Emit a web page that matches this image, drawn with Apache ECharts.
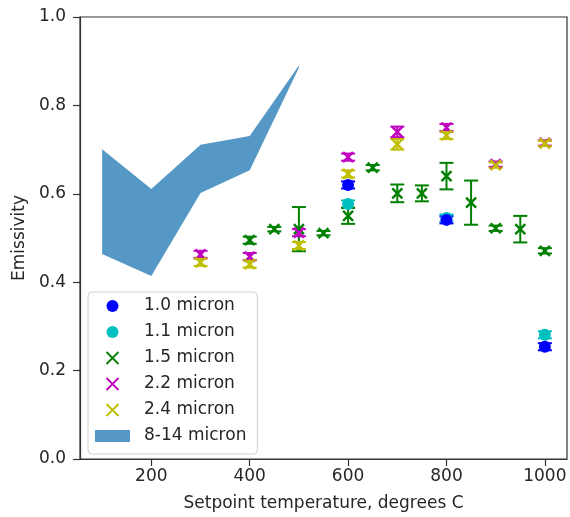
<!DOCTYPE html>
<html>
<head>
<meta charset="utf-8">
<script src="https://cdn.jsdelivr.net/npm/echarts@6/dist/echarts.min.js"></script>
<style>
  html, body { margin: 0; padding: 0; background: #fff; }
  #chart { width: 570px; height: 517px; }
</style>
</head>
<body>
<div id="chart"></div>
<script>
// Emissivity measurements per wavelength band
const temps10 = [600, 800, 1000];
const emis10 = [0.620, 0.541, 0.254];
const err10 = [0.008, 0.008, 0.008];

const temps11 = [600, 800, 1000];
const emis11 = [0.577, 0.545, 0.281];
const err11 = [0.008, 0.008, 0.008];

const temps15 = [400, 450, 500, 550, 600, 650, 700, 750, 800, 850, 900, 950, 1000];
const emis15 = [0.495, 0.520, 0.520, 0.511, 0.550, 0.659, 0.601, 0.601, 0.640, 0.580, 0.522, 0.520, 0.471];
const err15 = [0.008, 0.005, 0.050, 0.005, 0.018, 0.006, 0.020, 0.018, 0.030, 0.050, 0.006, 0.030, 0.006];

const temps22 = [300, 400, 500, 600, 700, 800, 900, 1000];
const emis22 = [0.463, 0.458, 0.512, 0.683, 0.740, 0.750, 0.667, 0.715];
const err22 = [0.008, 0.008, 0.008, 0.008, 0.012, 0.008, 0.006, 0.006];

const temps24 = [300, 400, 500, 600, 700, 800, 900, 1000];
const emis24 = [0.445, 0.441, 0.483, 0.645, 0.712, 0.732, 0.665, 0.714];
const err24 = [0.008, 0.008, 0.008, 0.008, 0.012, 0.008, 0.006, 0.006];

// 8-14 micron band: lower and upper bounds
const bandTemps = [100, 200, 300, 400, 500];
const bandLow = [0.464, 0.414, 0.602, 0.653, 0.885];
const bandHigh = [0.701, 0.611, 0.711, 0.731, 0.890];

const xTicks = [200, 400, 600, 800, 1000];

const FONT = 'DejaVu Sans';
const TEXT = '#262626';
const CROSS = 'path://M0,0L10,10M10,0L0,10';

function errorSeries(name, xs, ys, es, color) {
  return {
    type: 'custom',
    name: name,
    silent: true,
    data: xs.map((x, i) => [x, ys[i] - es[i], ys[i] + es[i]]),
    encode: { x: 0, y: [1, 2] },
    renderItem: function (params, api) {
      const lo = api.coord([api.value(0), api.value(1)]);
      const hi = api.coord([api.value(0), api.value(2)]);
      const cap = 7;
      const st = { stroke: color, lineWidth: 2, fill: null };
      return {
        type: 'group',
        children: [
          { type: 'line', shape: { x1: lo[0], y1: lo[1], x2: hi[0], y2: hi[1] }, style: st },
          { type: 'line', shape: { x1: lo[0] - cap, y1: lo[1], x2: lo[0] + cap, y2: lo[1] }, style: st },
          { type: 'line', shape: { x1: hi[0] - cap, y1: hi[1], x2: hi[0] + cap, y2: hi[1] }, style: st }
        ]
      };
    },
    z: 3
  };
}

function pointSeries(name, xs, ys, color, cross) {
  return {
    type: 'scatter',
    name: name,
    data: xs.map((x, i) => [x, ys[i]]),
    symbol: cross ? CROSS : 'circle',
    symbolSize: cross ? 10 : 12,
    itemStyle: cross
      ? { color: 'none', borderColor: color, borderWidth: 2.4, opacity: 1 }
      : { color: color, opacity: 1 },
    z: 4
  };
}

const bandSeries = {
  type: 'custom',
  name: '8-14 micron',
  data: bandTemps.map((x, i) => [x, bandLow[i], bandHigh[i]]),
  encode: { x: 0, y: [1, 2] },
  renderItem: function (params, api) {
    if (params.dataIndex !== 0) return null;
    const pts = [];
    for (let i = 0; i < bandTemps.length; i++) pts.push(api.coord([bandTemps[i], bandHigh[i]]));
    for (let i = bandTemps.length - 1; i >= 0; i--) pts.push(api.coord([bandTemps[i], bandLow[i]]));
    return { type: 'polygon', shape: { points: pts }, style: { fill: '#5597c5', stroke: null } };
  },
  itemStyle: { color: '#5597c5' },
  z: 2
};

const colors = { c10: '#0000ff', c11: '#00bfbf', c15: '#008000', c22: '#bf00bf', c24: '#bfbf00' };

const option = {
  animation: false,
  backgroundColor: '#ffffff',
  grid: { left: 80, right: 3, top: 17, bottom: 53, show: true, borderColor: '#333', borderWidth: 1.2 },
  xAxis: {
    type: 'value',
    min: 55,
    max: 1045,
    name: 'Setpoint temperature, degrees C',
    nameLocation: 'middle',
    nameGap: 36,
    nameTextStyle: { fontFamily: FONT, fontSize: 17, color: TEXT },
    axisLine: { show: true, onZero: false, lineStyle: { color: '#333', width: 1.2 } },
    axisTick: { show: true, length: 7, inside: false, customValues: xTicks, lineStyle: { color: '#333', width: 1.2 } },
    axisLabel: { customValues: xTicks, margin: 9, fontFamily: FONT, fontSize: 17, color: TEXT, formatter: v => String(v) },
    splitLine: { show: false }
  },
  yAxis: {
    type: 'value',
    min: 0,
    max: 1,
    interval: 0.2,
    name: 'Emissivity',
    nameLocation: 'middle',
    nameGap: 43,
    nameTextStyle: { fontFamily: FONT, fontSize: 17, color: TEXT },
    axisLine: { show: true, lineStyle: { color: '#333', width: 1.2 } },
    axisTick: { show: true, length: 7, lineStyle: { color: '#333', width: 1.2 } },
    axisLabel: { margin: 14, fontFamily: FONT, fontSize: 17, color: TEXT, formatter: v => v.toFixed(1) },
    splitLine: { show: false }
  },
  legend: {
    orient: 'vertical',
    left: 88,
    top: 292,
    itemWidth: 35,
    itemHeight: 12,
    itemGap: 6,
    padding: [4, 11, 8, 7],
    backgroundColor: '#ffffff',
    borderColor: '#d0d0d0',
    borderWidth: 1,
    borderRadius: 4,
    symbolKeepAspect: true,
    textStyle: { fontFamily: FONT, fontSize: 17, color: TEXT, padding: [0, 0, 0, 9], lineHeight: 20 },
    data: [
      { name: '1.0 micron', icon: 'circle', itemStyle: { color: colors.c10 } },
      { name: '1.1 micron', icon: 'circle', itemStyle: { color: colors.c11 } },
      { name: '1.5 micron', icon: CROSS, itemStyle: { color: 'none', borderColor: colors.c15, borderWidth: 1.8 } },
      { name: '2.2 micron', icon: CROSS, itemStyle: { color: 'none', borderColor: colors.c22, borderWidth: 1.8 } },
      { name: '2.4 micron', icon: CROSS, itemStyle: { color: 'none', borderColor: colors.c24, borderWidth: 1.8 } },
      { name: '8-14 micron', icon: 'rect', itemStyle: { color: '#5597c5' } }
    ]
  },
  series: [
    bandSeries,
    errorSeries('err11', temps11, emis11, err11, colors.c11),
    pointSeries('1.1 micron', temps11, emis11, colors.c11, false),
    errorSeries('err10', temps10, emis10, err10, colors.c10),
    pointSeries('1.0 micron', temps10, emis10, colors.c10, false),
    errorSeries('err15', temps15, emis15, err15, colors.c15),
    pointSeries('1.5 micron', temps15, emis15, colors.c15, true),
    errorSeries('err22', temps22, emis22, err22, colors.c22),
    pointSeries('2.2 micron', temps22, emis22, colors.c22, true),
    errorSeries('err24', temps24, emis24, err24, colors.c24),
    pointSeries('2.4 micron', temps24, emis24, colors.c24, true)
  ]
};

const chart = echarts.init(document.getElementById('chart'), null, { renderer: 'canvas' });
chart.setOption(option);
</script>
</body>
</html>
